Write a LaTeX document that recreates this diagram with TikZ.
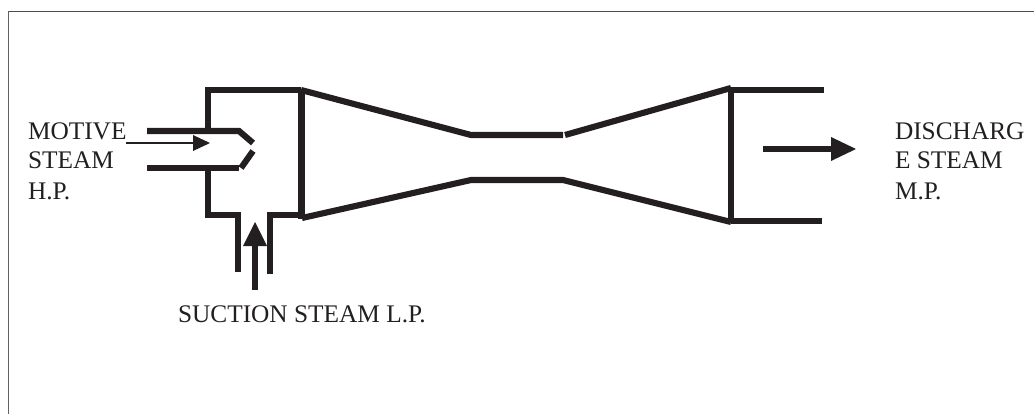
\documentclass[tikz,border=0pt]{standalone}
\usepackage{fontspec}
\setmainfont{Liberation Serif}
\definecolor{ink}{HTML}{231F20}
\tikzset{
  wall/.style={draw=ink,line width=4.6pt,line cap=butt,line join=miter},
  label/.style={anchor=base west,inner sep=0pt,outer sep=0pt,text=ink,font=\fontsize{19}{19}\selectfont},
  head/.style={fill=ink,draw=none}
}
\begin{document}
\begin{tikzpicture}[x=0.75pt,y=-0.75pt]
\useasboundingbox (0,0) rectangle (1034,414);
\draw[draw=ink!80,line width=0.9pt] (8.5,11.5) -- (1034,11.5);
\draw[draw=ink!70,line width=1.4pt] (8.5,11) -- (8.5,414);
% motive nozzle
\draw[wall] (147,131) -- (239,131) -- (253,143);
\draw[wall] (147,168) -- (239,168);
\draw[wall] (241,168) -- (253,151);
% suction chamber
\draw[wall] (208,131) -- (208,90) -- (301,90);
\draw[wall] (208,170) -- (208,215) -- (238,215) -- (238,272);
\draw[wall] (270,274) -- (270,215) -- (302,215);
\draw[wall] (301.5,89) -- (301.5,219);
% venturi
\draw[wall] (301,90) -- (471,135) -- (563,135);
\draw[wall] (565,135) -- (731,88);
\draw[wall] (302,218) -- (471,180) -- (563,180) -- (731,222);
\draw[wall] (731,87) -- (731,223);
\draw[wall] (731,90) -- (824,90);
\draw[wall] (731,221) -- (822,221);
% arrows
\draw[draw=ink,line width=2pt] (126,143) -- (195,143);
\fill[head] (193,135) -- (210,143) -- (193,151) -- cycle;
\draw[draw=ink,line width=4.6pt] (255,290) -- (255,244);
\fill[head] (243,246) -- (255,222) -- (267,246) -- cycle;
\draw[draw=ink,line width=4.6pt] (763,149) -- (833,149);
\fill[head] (831,137) -- (856,149) -- (831,161) -- cycle;
% labels
\node[label] (m1) at (28,139) {MOTIVE};
\node[label] (m2) at (28,168) {STEAM};
\node[label] (m3) at (28,199) {H.P.};
\node[label] (s1) at (178,322) {SUCTION STEAM L.P.};
\node[label] (d1) at (895,139) {DISCHARG};
\node[label] (d2) at (895,168) {E STEAM};
\node[label] (d3) at (895,199) {M.P.};
\end{tikzpicture}
\end{document}
